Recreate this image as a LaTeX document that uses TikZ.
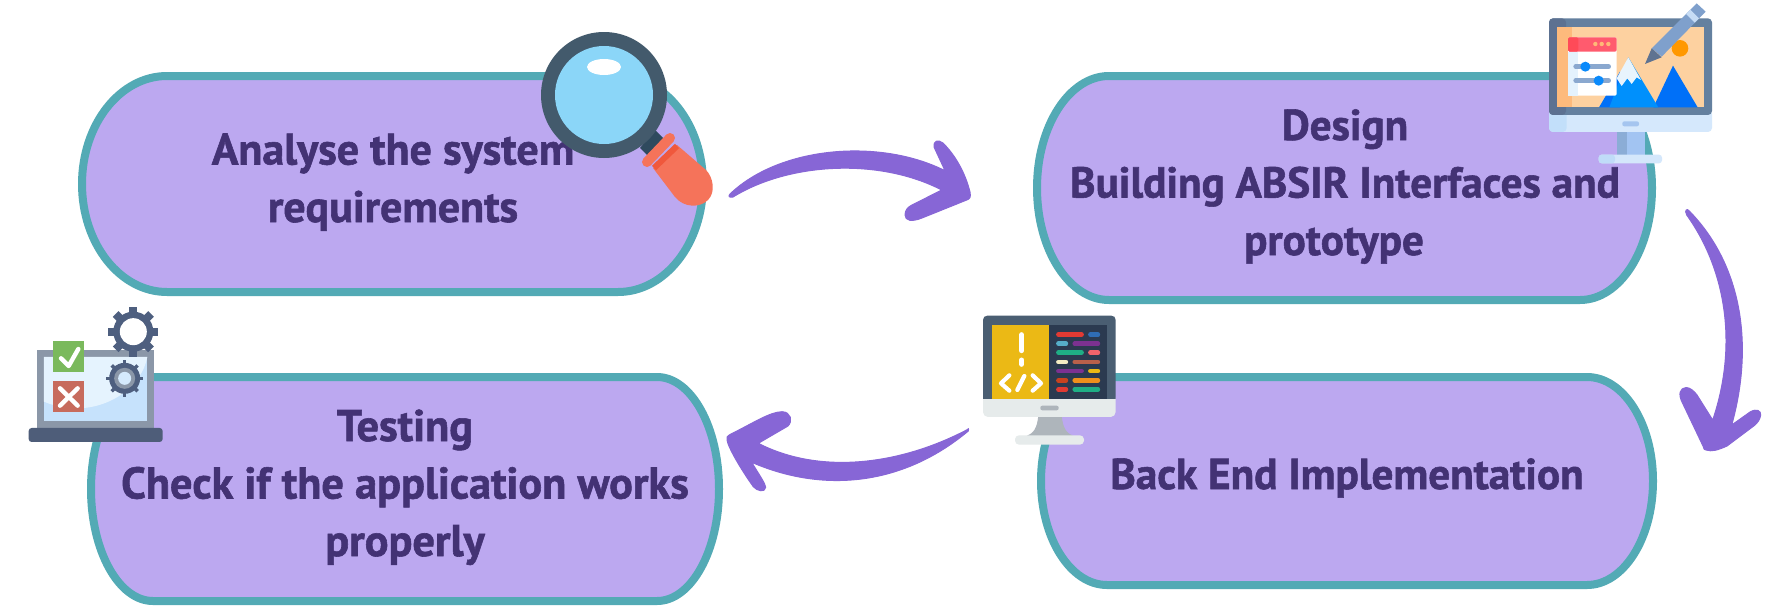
\documentclass[tikz,border=0pt]{standalone}
\usepackage{fontspec}
\setmainfont{PT Sans}[BoldFeatures={FakeBold=1.3}]
\definecolor{pillfill}{HTML}{BCA8F0}
\definecolor{pillline}{HTML}{53AAB5}
\definecolor{labtext}{HTML}{433274}
\definecolor{arrowc}{HTML}{8766D6}
\definecolor{ringc}{HTML}{435A6C}
\definecolor{neckc}{HTML}{2F4A5E}
\definecolor{bodyc}{HTML}{F5735A}
\definecolor{stripc}{HTML}{F0583C}
\definecolor{lensc}{HTML}{8BD6F8}
\definecolor{gearc}{HTML}{4E5F7F}
\newcommand{\pillshape}[6]{%
  \draw[pill] (#1,#2+#6) arc[start angle=180,end angle=90,x radius=#5 pt,y radius=#6 pt]
    -- (#3-#5,#2) arc[start angle=90,end angle=0,x radius=#5 pt,y radius=#6 pt]
    -- (#3,#4-#6) arc[start angle=0,end angle=-90,x radius=#5 pt,y radius=#6 pt]
    -- (#1+#5,#4) arc[start angle=-90,end angle=-180,x radius=#5 pt,y radius=#6 pt] -- cycle;}
\newcommand{\hx}[2]{\definecolor{tmpc}{HTML}{#1}\fill[tmpc]#2;}
\newcommand{\gearshape}[6]{%
  \foreach \a in {0,45,...,315}{\draw[#6,line width=#5 pt] (#1,#2) -- ++(\a:#3 pt);}
  \fill[#6] (#1,#2) circle[radius=#4 pt];}
\tikzset{
  pill/.style={draw=pillline,fill=pillfill,line width=8pt},
  lab/.style={font=\fontsize{#1}{57.5}\selectfont\bfseries,text=labtext,align=center,inner sep=0pt,anchor=base},
  arrowshape/.style={fill=arrowc,draw=arrowc,line width=1pt,line join=round},
  codebar/.style={line width=4.4pt,line cap=round},
  whitestroke/.style={draw=white,line cap=round,line join=round}
}
\begin{document}
\begin{tikzpicture}[x=1pt,y=-1pt]
\useasboundingbox (0,0) rectangle (1779,605);
\fill[white] (0,0) rectangle (1779,605);
% pills
\pillshape{82}{76}{703}{292}{85}{108}
\pillshape{1037}{76}{1652}{300}{72}{112}
\pillshape{1041}{377}{1653}{585}{66}{104}
\begin{scope}
\clip (0,0) rectangle (1779,605);
\pillshape{91}{377}{719}{601}{62}{112}
\end{scope}
% labels
\node[lab=44] (analyse) at (393,222) {Analyse the system\\requirements};
\node[lab=43.2] (design) at (1345,255) {Design\\Building ABSIR Interfaces and\\prototype\hspace*{22pt}};
\node[lab=43.2] (backend) at (1347,489) {Back End Implementation};
\node[lab=44.3] (testing) at (405,556) {Testing\\Check if the application works\\properly};
% connectors
\coordinate (aTail) at (730,194);
\coordinate (aTip) at (970,192);
\coordinate (bTail) at (1689.3,211);
\coordinate (bTip) at (1706,450);
\coordinate (cTail) at (967.5,429.5);
\coordinate (cTip) at (727,440);
\fill[arrowshape] (aTail) .. controls (780,146) and (880,138) .. (945,170.7)
  -- (934,147) .. controls (933,141) and (938,139) .. (943,143)
  .. controls (955,155) and (965,172) .. (aTip)
  .. controls (971,197) and (970,199) .. (966.7,200)
  -- (922,218) .. controls (912,222) and (905,221) .. (905,215)
  .. controls (905,210) and (908,207) .. (912,205) -- (941.7,190)
  .. controls (880,158) and (790,162) .. (733,197) .. controls (729,198) and (728,196) .. (aTail) -- cycle;
\fill[arrowshape] (bTail) .. controls (1742,265) and (1754,345) .. (1731.7,425)
  -- (1750,412) .. controls (1757,408) and (1761,411) .. (1760.7,415)
  .. controls (1760,420) and (1757,423) .. (1755,425)
  -- (1727,446) .. controls (1718,450) and (1712,452) .. (bTip)
  .. controls (1704,450) and (1704,449) .. (1703.3,446.7)
  -- (1682,402) .. controls (1678,394) and (1680,388) .. (1686,387.5)
  .. controls (1690,387.5) and (1694,391) .. (1697,395) -- (1712.7,420)
  .. controls (1738,345) and (1726,270) .. (1686.7,215)
  .. controls (1684,210) and (1687,208) .. (bTail) -- cycle;
\fill[arrowshape] (cTail) .. controls (900,465) and (820,475) .. (758.3,443.3)
  -- (788,426) .. controls (793,421) and (791,412) .. (782,411.7)
  .. controls (770,412) and (755,422) .. (731,434)
  .. controls (727,436) and (726,438) .. (cTip)
  .. controls (728,447) and (740,468) .. (753.3,486.7)
  .. controls (757,491) and (765,493) .. (765.7,487.3)
  .. controls (765,483) and (760,476) .. (751.7,462.3)
  .. controls (820,492) and (900,488) .. (968.3,431)
  .. controls (969,428) and (968,428) .. (cTail) -- cycle;
% magnifier
\fill[neckc] (655,130) -- (665,140) -- (650,158) -- (640,148) -- cycle;
\fill[bodyc] (677,145) -- (706,170) .. controls (713,177) and (716,192) .. (708,200)
  .. controls (700,208) and (684,208) .. (675,197) -- (653,168) -- cycle;
\draw[stripc,line width=6pt] (677,146) -- (654,168);
\draw[bodyc,line width=10pt,line cap=round] (670,138) -- (647,162);
\fill[ringc] (604,95) circle[radius=63pt];
\fill[lensc] (604,95) circle[radius=49pt];
\fill[white] (604,67) ellipse[x radius=17pt,y radius=8pt];
% design monitor
\begin{scope}[shift={(1520,0)},x=0.3333pt,y=-0.3333pt]
\hx{A2C4F2}{(290,390) rectangle (375,470)}
\hx{8BADD6}{(290,390) rectangle (320,470)}
\hx{D4E7FB}{[rounded corners=3pt] (236,464) rectangle (426,490)}
\hx{C0DCF8}{[rounded corners=3pt] (236,464) rectangle (285,490)}
\hx{D5E8FC}{[rounded corners=4pt] (87,330) rectangle (576,396)}
\hx{C2DFFA}{[rounded corners=4pt] (87,330) rectangle (140,396)}
\hx{64809F}{[rounded corners=4pt] (87,55) rectangle (576,345)}
\hx{5C7191}{[rounded corners=4pt] (87,55) rectangle (138,345)}
\hx{FDD1A0}{(112,82) rectangle (551,322)}
\hx{FDBA7C}{(112,82) rectangle (155,322)}
\hx{A5C5EF}{[rounded corners=2pt] (307,364) rectangle (357,379)}
\hx{FF9800}{(480,145) circle[radius=8.3pt]}
\hx{0070F8}{(400,322) -- (459,197) -- (533,322) -- cycle}
\hx{0070F8}{(237,322) -- (300,215) -- (325,250) -- (300,322) -- cycle}
\hx{0090FC}{(268,322) -- (325,172) -- (415,322) -- cycle}
\hx{E8F4FD}{(290,235) -- (325,172) -- (363,240) -- (350,232) -- (335,252) -- (322,235) -- (305,258) -- cycle}
\hx{7FA0CC}{(395,145) -- (530,10) -- (557,35) -- (425,170) -- cycle}
\hx{C6DCF5}{(498,42) -- (511,29) -- (537,55) -- (524,68) -- cycle}
\hx{5F7391}{(375,192) -- (395,145) -- (425,172) -- cycle}
\hx{FFFFFF}{[rounded corners=1.5pt] (144,112) rectangle (290,287)}
\hx{E4F2FD}{(144,155) rectangle (175,287)}
\hx{FF5B6E}{[rounded corners=1.5pt] (144,112) rectangle (290,155)}
\hx{FF4A58}{[rounded corners=1.5pt] (144,112) rectangle (175,155)}
\foreach \dx in {226,245,265}{\hx{FFB977}{(\dx,132) circle[radius=2.2pt]}}
\definecolor{slidec}{HTML}{8AA8CF}
\draw[slidec,line width=4.6pt,line cap=round] (167,200) -- (266,200);
\draw[slidec,line width=4.6pt,line cap=round] (167,242) -- (266,242);
\hx{0A8AFB}{(196,200) circle[radius=5pt]}
\hx{0A8AFB}{(236,242) circle[radius=5pt]}
\end{scope}
% code monitor
\begin{scope}[shift={(960,300)},x=0.3333pt,y=-0.3333pt]
\hx{AEB5BB}{(235,345) -- (305,345) .. controls (308,385) and (320,400) .. (340,408) -- (200,408) .. controls (220,400) and (232,385) .. (235,345) -- cycle}
\hx{E6EBEB}{[rounded corners=4pt] (165,406) rectangle (372,434)}
\hx{E6EBEB}{[rounded corners=5pt] (69,280) rectangle (467,351)}
\hx{4A5E72}{(69,297) -- (69,60) .. controls (69,52) and (74,47) .. (82,47) -- (454,47) .. controls (462,47) and (467,52) .. (467,60) -- (467,297) -- cycle}
\hx{EBB915}{(96,76) rectangle (268,296)}
\hx{2B3A50}{(268,76) rectangle (441,296)}
\hx{AEB5BB}{[rounded corners=2pt] (241,317) rectangle (296,331)}
\foreach \yy/\xa/\xb/\cc in {104/295/365/E03A33,104/391/414/2F6DB5,131/295/318/56AEC9,131/344/414/7C3191,158/295/365/1FAE85,158/391/414/F0636B,186/295/318/F3ECC4,186/344/414/B9604A,213/295/365/7C3191,213/391/414/EBB915,241/295/318/C8421F,241/344/414/EF8F1C,268/295/318/E03A33,268/344/414/1FAE85}{
  \definecolor{barc}{HTML}{\cc}\draw[barc,codebar] (\xa,\yy) -- (\xb,\yy);}
\draw[whitestroke,line width=5pt] (185,104) -- (185,152);
\draw[whitestroke,line width=5pt] (185,180) -- (185,193);
\draw[whitestroke,line width=4.2pt] (148,226) -- (123,250) -- (148,272);
\draw[whitestroke,line width=4.2pt] (193,228) -- (172,270);
\draw[whitestroke,line width=4.2pt] (218,226) -- (243,250) -- (218,272);
\end{scope}
% laptop
\begin{scope}[shift={(10,290)},x=0.3333pt,y=-0.3333pt]
\hx{8B97A8}{(82,180) rectangle (431,416)}
\hx{C6E2FC}{(102,201) rectangle (412,394)}
\hx{E5F3FE}{(102,201) -- (412,201) .. controls (395,290) and (300,355) .. (200,355) .. controls (160,355) and (125,345) .. (102,335) -- cycle}
\hx{4E5D79}{[rounded corners=3pt] (56,414) rectangle (458,456)}
\hx{7AB95C}{(129,153) rectangle (223,247)}
\draw[whitestroke,line width=4.4pt] (153,205) -- (176,228) -- (205,177);
\hx{C76B5D}{(129,273) rectangle (223,367)}
\draw[whitestroke,line width=4.4pt] (150,295) -- (203,347);
\draw[whitestroke,line width=4.4pt] (203,295) -- (150,347);
\gearshape{370}{125}{25}{20}{8}{gearc}
\hx{FFFFFF}{(370,125) circle[radius=13.5pt]}
\gearshape{344}{265}{18.3}{15.5}{3.5}{gearc}
\hx{8B97A8}{(344,265) circle[radius=10.5pt]}
\hx{D5EAFD}{(344,265) circle[radius=6.5pt]}
\end{scope}
\end{tikzpicture}
\end{document}
